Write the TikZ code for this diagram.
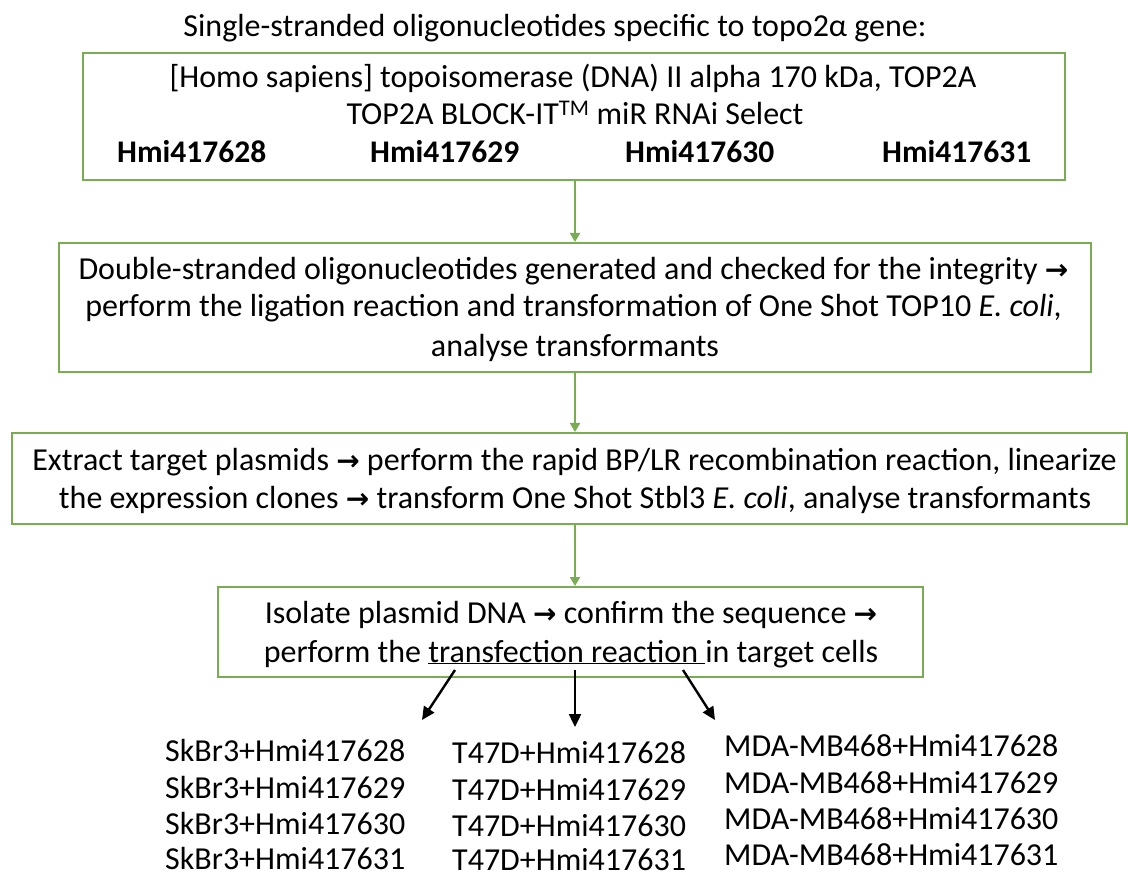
\documentclass[tikz,border=0pt]{standalone}
\usepackage{fontspec}
\setmainfont{Carlito}
\newfontfamily\symfont{DejaVu Sans}
\usetikzlibrary{arrows.meta}
\definecolor{boxgreen}{RGB}{122,172,84}
\newcommand{\rarr}{{\symfont\bfseries\fontsize{28}{32}\selectfont →}}
\tikzset{
  flowbox/.style={draw=boxgreen, line width=2pt, fill=white, inner sep=0pt},
  txt/.style={inner sep=0pt, anchor=base, font=\fontsize{32}{38}\selectfont},
  btxt/.style={inner sep=0pt, anchor=base west, font=\fontsize{31.5}{38}\selectfont\bfseries},
  listtxt/.style={inner sep=0pt, anchor=base west, font=\fontsize{32}{38}\selectfont},
  garrow/.style={draw=boxgreen, line width=2pt, -{Triangle[length=9pt,width=10pt]}},
  karrow/.style={draw=black, line width=2.4pt, -{Triangle[length=13pt,width=12pt]}}
}
\begin{document}
\begin{tikzpicture}[x=1pt, y=-1pt]
\useasboundingbox[fill=white] (0,0) rectangle (1128,877);

% title
\node[txt] (title) at (555,37) {Single-stranded oligonucleotides specific to topo2α gene:};

% step boxes
\node[flowbox, minimum width=982pt, minimum height=127pt] (b1) at (574,116.5) {};
\node[flowbox, minimum width=1032pt, minimum height=129pt] (b2) at (575,307.5) {};
\node[flowbox, minimum width=1115pt, minimum height=91pt] (b3) at (569.5,478.5) {};
\node[flowbox, minimum width=705pt, minimum height=90pt] (b4) at (570.5,632) {};

% box 1
\node[txt] (b1l1) at (573,88) {[Homo sapiens] topoisomerase (DNA) II alpha 170 kDa, TOP2A};
\node[txt] (b1l2) at (575,125) {TOP2A BLOCK-IT\textsuperscript{TM} miR RNAi Select};
\node[btxt] (h1) at (117,163) {Hmi417628};
\node[btxt] (h2) at (370,163) {Hmi417629};
\node[btxt] (h3) at (625,163) {Hmi417630};
\node[btxt] (h4) at (882,163) {Hmi417631};

% box 2
\node[txt] (b2l1) at (573.5,280) {Double-stranded oligonucleotides generated and checked for the integrity \rarr};
\node[txt] (b2l2) at (573.5,317) {perform the ligation reaction and transformation of One Shot TOP10 \textit{E. coli},};
\node[txt] (b2l3) at (575,357) {analyse transformants};

% box 3
\node[txt] (b3l1) at (574.5,470) {Extract target plasmids \rarr{} perform the rapid BP/LR recombination reaction, linearize};
\node[txt] (b3l2) at (575,508) {the expression clones \rarr{} transform One Shot Stbl3 \textit{E. coli}, analyse transformants};

% box 4
\node[txt] (b4l1) at (571,623) {Isolate plasmid DNA \rarr{} confirm the sequence \rarr};
\node[txt] (b4l2) at (571,662) {perform the \underline{transfection reaction\ }in target cells};

% arrows between boxes
\coordinate (axis) at (575,0);
\draw[garrow] (b1.south -| axis) -- (b2.north -| axis);
\draw[garrow] (b2.south -| axis) -- (b3.north -| axis);
\draw[garrow] (b3.south -| axis) -- (b4.north -| axis);

% arrows to the cell lines
\coordinate (s1) at (455,670);
\coordinate (s2) at (575,670);
\coordinate (s3) at (683,670);
\coordinate (t1) at (422,720);
\coordinate (t2) at (575,727);
\coordinate (t3) at (715,720);
\draw[karrow] (s1) -- (t1);
\draw[karrow] (s2) -- (t2);
\draw[karrow] (s3) -- (t3);

% cell line / oligonucleotide combinations
\node[listtxt] (c11) at (165,761) {SkBr3+Hmi417628};
\node[listtxt] (c12) at (165,798) {SkBr3+Hmi417629};
\node[listtxt] (c13) at (165,834) {SkBr3+Hmi417630};
\node[listtxt] (c14) at (165,869) {SkBr3+Hmi417631};
\node[listtxt] (c21) at (452,763) {T47D+Hmi417628};
\node[listtxt] (c22) at (452,800) {T47D+Hmi417629};
\node[listtxt] (c23) at (452,836) {T47D+Hmi417630};
\node[listtxt] (c24) at (452,870) {T47D+Hmi417631};
\node[listtxt] (c31) at (724,756) {MDA-MB468+Hmi417628};
\node[listtxt] (c32) at (724,793) {MDA-MB468+Hmi417629};
\node[listtxt] (c33) at (724,829) {MDA-MB468+Hmi417630};
\node[listtxt] (c34) at (724,865) {MDA-MB468+Hmi417631};
\end{tikzpicture}
\end{document}
